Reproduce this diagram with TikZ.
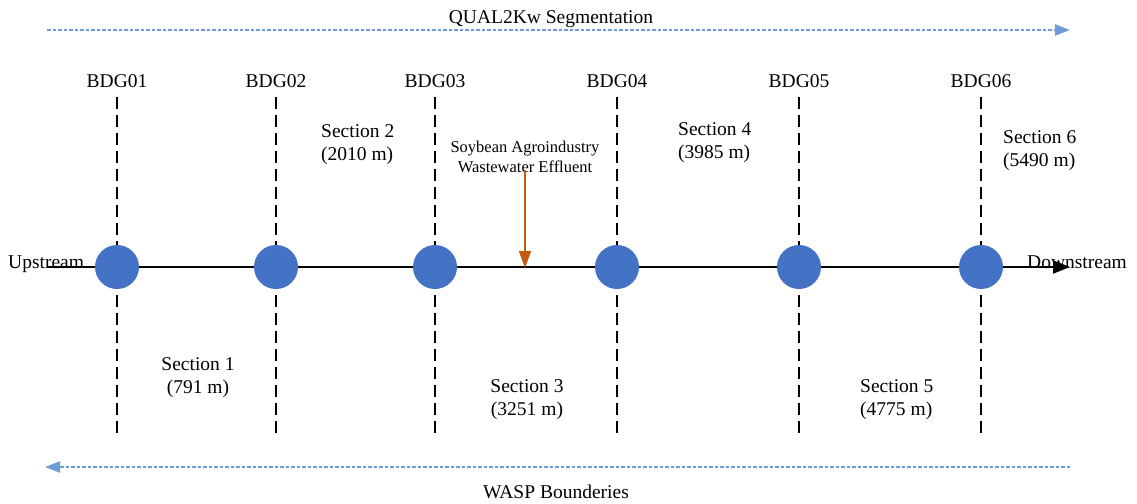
\documentclass[tikz,border=0pt]{standalone}
\usepackage{fontspec}
\setmainfont{Liberation Serif}
\usetikzlibrary{arrows.meta}
\definecolor{station}{HTML}{4472C4}
\definecolor{segblue}{HTML}{6E9BD3}
\definecolor{effluent}{HTML}{C55A11}
\tikzset{
  lbl/.style={font=\fontsize{19.5}{23}\selectfont, inner sep=0pt, align=left},
  small/.style={font=\fontsize{16.5}{20}\selectfont, inner sep=0pt, align=center},
  station/.style={circle, fill=station, minimum size=44pt, inner sep=0pt},
  guide/.style={black, line width=1.4pt, dash pattern=on 12pt off 6pt},
  segline/.style={segblue, line width=2.2pt, dash pattern=on 3.5pt off 2pt},
}
\begin{document}
\begin{tikzpicture}[x=1pt,y=-1pt]
\useasboundingbox (0,0) rectangle (1137,503);
% top segmentation arrow
\coordinate (segL) at (47,30);
\coordinate (segR) at (1070,30);
\draw[segline, -{Triangle[length=15pt,width=11pt]}] (segL) -- (segR);
\node[lbl, anchor=base] (segT) at (551,24) {QUAL2Kw Segmentation};
% bottom WASP arrow
\coordinate (waspR) at (1070,467);
\coordinate (waspL) at (45,467);
\draw[segline, -{Triangle[length=15pt,width=11pt]}] (waspR) -- (waspL);
\node[lbl, anchor=base] (waspT) at (556,498) {WASP Bounderies};
% guides and stations
\foreach \i/\x in {1/117,2/276,3/435,4/617,5/799,6/981}{
  \coordinate (t\i) at (\x,97);
  \coordinate (b\i) at (\x,437);
  \draw[guide] (t\i) -- (b\i);
  \node[lbl, anchor=base] (bdg\i) at (\x,88) {BDG0\i};
}
% main river line
\coordinate (up) at (47,267);
\coordinate (down) at (1070,267);
\draw[black, line width=2pt, -{Triangle[length=17pt,width=13pt]}] (up) -- (down);
\foreach \i/\x in {1/117,2/276,3/435,4/617,5/799,6/981}{
  \node[station] (s\i) at (\x,267) {};
}
\node[lbl, anchor=base west] (ups) at (8,268) {Upstream};
\node[lbl, anchor=base west] (dns) at (1027,268) {Downstream};
% sections
\node[lbl, anchor=north, align=center] (sec1) at (198,357) {Section 1\\(791 m)};
\node[lbl, anchor=north west] (sec2) at (321,124) {Section 2\\(2010 m)};
\node[lbl, anchor=north, align=center] (sec3) at (527,379) {Section 3\\(3251 m)};
\node[lbl, anchor=north west] (sec4) at (678,122) {Section 4\\(3985 m)};
\node[lbl, anchor=north west] (sec5) at (860,379) {Section 5\\(4775 m)};
\node[lbl, anchor=north west] (sec6) at (1003,130) {Section 6\\(5490 m)};
% effluent
\node[small, anchor=north] (eff) at (525,141) {Soybean Agroindustry\\Wastewater Effluent};
\coordinate (effIn) at (525,268);
\draw[effluent, line width=2pt, -{Triangle[length=17pt,width=12pt]}] (eff.south) ++(0,-3) -- (effIn);
\end{tikzpicture}
\end{document}
